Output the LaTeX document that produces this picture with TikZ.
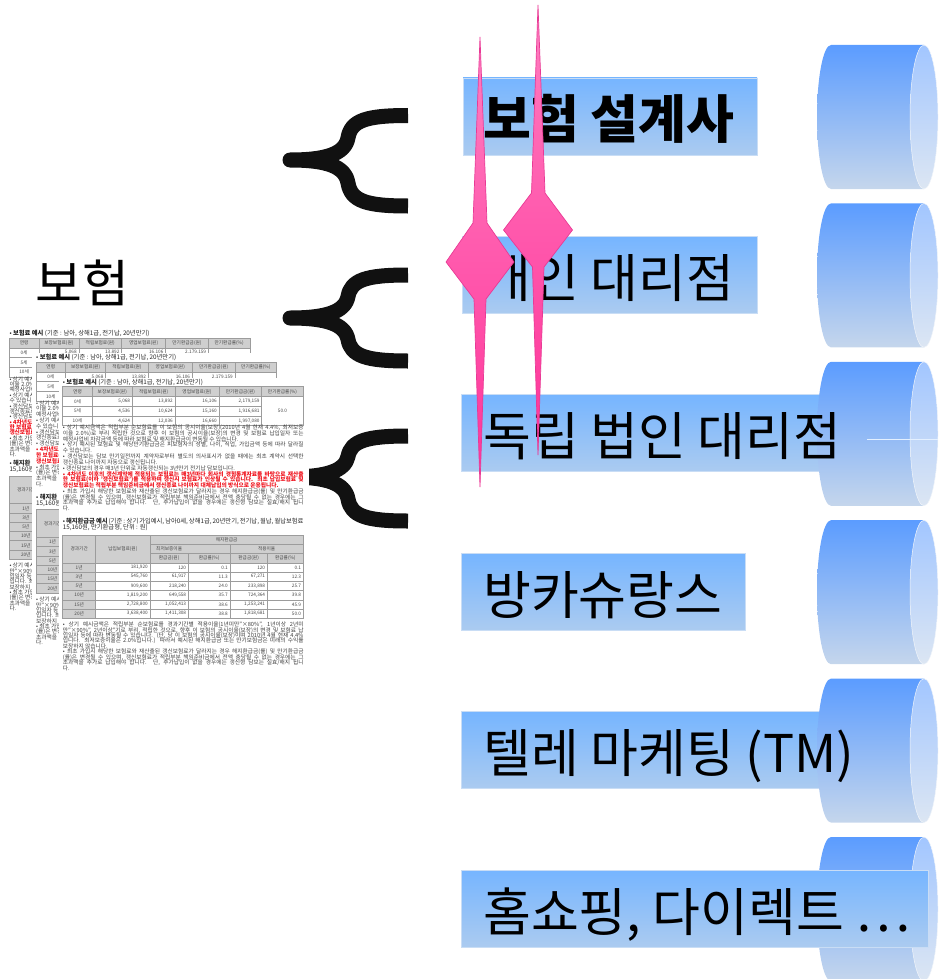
\documentclass[tikz,border=0pt]{standalone}
\usepackage{fontspec}
\setmainfont{Noto Sans CJK KR}
\definecolor{rtop}{HTML}{76B5FF}
\definecolor{rbot}{HTML}{ABCBF0}
\definecolor{redge}{HTML}{C9DDF5}
\definecolor{ctop}{HTML}{5B9CFF}
\definecolor{cmid}{HTML}{7FBAFC}
\definecolor{cbot}{HTML}{C5D6EC}
\definecolor{ftop}{HTML}{A2C6FF}
\definecolor{fbot}{HTML}{DCE6F3}
\definecolor{ptop}{HTML}{FF7EC0}
\definecolor{pbot}{HTML}{FF3399}
\definecolor{pedge}{HTML}{E83A95}
\definecolor{hdrgray}{HTML}{CFCFCF}
\definecolor{gridgray}{HTML}{9C9C9C}
\definecolor{notered}{HTML}{F0141E}
\definecolor{braceblk}{HTML}{111111}

\tikzset{
 lblrect/.style={top color=rtop, bottom color=rbot, draw=redge, line width=0.7pt},
 cylbody/.style={top color=ctop, middle color=cmid, bottom color=cbot},
 cylface/.style={top color=ftop, bottom color=fbot, draw=white!60!fbot, line width=0.5pt},
 pinkspike/.style={top color=ptop, bottom color=pbot, draw=pedge, line width=0.7pt, line join=miter},
 bracestroke/.style={draw=braceblk, line width=15pt, line join=round, line cap=butt},
 biglbl/.style={anchor=base west, inner sep=0pt, font=\fontsize{52}{52}\selectfont, text=black},
 cellc/.style={inner sep=0pt, font=\fontsize{4.7}{4.7}\selectfont, text=black!72},
 cellr/.style={cellc, anchor=east},
 gridln/.style={draw=gridgray, line width=0.45pt},
 titleln/.style={anchor=west, inner sep=0pt, font=\fontsize{6.3}{6.3}\selectfont, text=black!85},
 noteln/.style={anchor=west, inner sep=0pt, font=\fontsize{5.7}{5.7}\selectfont, text=black!75},
 redln/.style={anchor=west, inner sep=0pt, font=\fontsize{5.7}{5.7}\selectfont\bfseries, text=notered},
}

% full-width (justified) line and last line of a paragraph
\newcommand\fl[3]{\node[noteln] (#1) at (0,#2) {\makebox[240.6pt][s]{#3}};}
\newcommand\pl[3]{\node[noteln] (#1) at (0,#2) {#3};}
\newcommand\rfl[3]{\node[redln] (#1) at (0,#2) {\makebox[240.6pt][s]{#3}};}
\newcommand\rpl[3]{\node[redln] (#1) at (0,#2) {#3};}

\newcommand\tonerow[7]{%
 \node[cellc] (#1a) at (14.8,#2) {#3};
 \node[cellr] (#1b) at (67.6,#2) {#4};
 \node[cellr] (#1c) at (110.3,#2) {#5};
 \node[cellr] (#1d) at (154.3,#2) {#6};
 \node[cellr] (#1e) at (197,#2) {#7};}

\newcommand\ttworow[8]{%
 \node[cellc] (#1a) at (16.5,#2) {#3};
 \node[cellr] (#1b) at (85.3,#2) {#4};
 \node[cellr] (#1c) at (123.6,#2) {#5};
 \node[cellr] (#1d) at (165.3,#2) {#6};
 \node[cellr] (#1e) at (202.6,#2) {#7};
 \node[cellr] (#1f) at (238.6,#2) {#8};}

% #1 x, #2 y, #3 shift of section 2, #4 name prefix, #5 1=front copy, 0=back copy, #6 line-pitch scale (back copy)
\newcommand\docpage[6]{%
\begin{scope}[shift={(#1,#2)}, name prefix=#4-]
 \fill[white] (-4,-9) rectangle (246,{292+#3});
 \node[titleln] (title1) at (0,-4.7) {• \textbf{보험료 예시} (기준 : 남아, 상해1급, 전기납, 20년만기)};
 % table 1
 \fill[hdrgray] (0,0) rectangle (240.6,9.75);
 \draw[gridln] (0,0) rectangle (240.6,39);
 \foreach \yy in {19.5,29.25} \draw[gridln] (0,\yy) -- (199,\yy);
 \draw[gridln] (0,9.75) -- (240.6,9.75);
 \foreach \xx in {29.6,69.6,112.3,156.3,199} \draw[gridln] (\xx,0) -- (\xx,39);
 \node[cellc] (h1) at (14.8,4.9) {연령};
 \node[cellc] (h2) at (49.6,4.9) {보장보험료(원)};
 \node[cellc] (h3) at (90.95,4.9) {적립보험료(원)};
 \node[cellc] (h4) at (134.3,4.9) {영업보험료(원)};
 \node[cellc] (h5) at (177.65,4.9) {만기환급금(원)};
 \node[cellc] (h6) at (219.8,4.9) {만기환급률(\%)};
 \tonerow{ra}{14.6}{0세}{5,068}{13,892}{16,106}{2,179,159}
 \ifnum#5=1
  \tonerow{rb}{24.4}{5세}{4,536}{10,624}{15,160}{1,916,681}
  \tonerow{rc}{34.1}{10세}{4,624}{12,036}{16,660}{1,997,080}
  \node[cellc] (rate) at (219.8,24.4) {50.0};
  \fl{n1}{41}{• 상기 예시금액은 적립부분 순보험료를 이 보험의 공시이율(보장)(2010년 4월 현재 4.4\%, 최저보증}
  \fl{n2}{46.6}{이율 2.0\%)로 부리 적립한 것으로 향후 이 보험의 공시이율(보장)의 변경 및 보험료 납입일자 또는}
  \pl{n3}{52.2}{예정사업비 차감금액 등에 따라 보험료 및 해지환급금이 변동될 수 있습니다.}
  \fl{n4}{58.4}{• 상기 예시된 보험료 및 해당만기환급금은 피보험자의 성별, 나이, 직업, 가입금액 등에 따라 달라질}
  \pl{n5}{64.0}{수 있습니다.}
  \fl{n6}{70.0}{• 갱신담보는 담보 만기일전까지 계약자로부터 별도의 의사표시가 없을 때에는 최초 계약시 선택한}
  \pl{n7}{75.6}{갱신종료 나이까지 자동으로 갱신됩니다.}
  \pl{n8}{81.6}{• 갱신담보의 경우 매3년 단위로 자동갱신되는 3년만기 전기납 담보입니다.}
  \rfl{n9}{87.6}{• 4차년도 이후의 갱신계약에 적용되는 보험료는 매3년마다 회사의 경험통계자료를 바탕으로 재산출}
  \rfl{n10}{93.2}{한 보험료(이하 '갱신보험료')를 적용하며 갱신시 보험료가 인상될 수 있습니다. 최초 납입보험료 및}
  \rpl{n11}{98.8}{갱신보험료는 적립부분 책임준비금에서 갱신종료 나이까지 대체납입의 방식으로 운용됩니다.}
  \fl{n12}{105.0}{• 최초 가입시 해당한 보험료와 재산출된 갱신보험료가 달라지는 경우 해지환급금(률) 및 만기환급금}
  \fl{n13}{110.6}{(률)은 변경될 수 있으며, 갱신보험료가 적립부분 책임준비금에서 전액 충당될 수 없는 경우에는 그}
  \fl{n14}{116.2}{초과액을 추가로 납입해야 합니다. 단, 추가납입이 없을 경우에는 갱신형 담보는 실효/해지 됩니}
  \pl{n15}{121.8}{다.}
 \else
  \node[cellc] (rb) at (14.8,24.4) {5세};
  \node[cellc] (rc) at (14.8,34.1) {10세};
  \begin{scope}[shift={(0,{41*(1-#6)})}, yscale=#6]
  \pl{n1}{41}{• 상기 예시}
  \pl{n2}{46.6}{이율 2.0\%}
  \pl{n3}{52.2}{예정사업비}
  \pl{n4}{58.4}{• 상기 예시}
  \pl{n5}{64.0}{수 있습니}
  \pl{n6}{70.0}{• 갱신담보}
  \pl{n7}{75.6}{갱신종료로}
  \pl{n8}{81.6}{• 갱신담보}
  \rpl{n9}{87.6}{• 4차년도}
  \rpl{n10}{93.2}{한 보험료(}
  \rpl{n11}{98.8}{갱신보험료}
  \pl{n12}{105.0}{• 최초 가입}
  \pl{n13}{110.6}{(률)은 변경}
  \pl{n14}{116.2}{초과액을}
  \pl{n15}{121.8}{다.}
  \end{scope}
 \fi
 % section 2
 \begin{scope}[shift={(0,{148.3+#3})}]
  \fill[hdrgray] (0,0) rectangle (240.6,27.75);
  \fill[hdrgray] (0,27.75) rectangle (33,83.25);
  \draw[gridln] (0,0) rectangle (240.6,83.25);
  \draw[gridln] (87.3,9.25) -- (240.6,9.25);
  \draw[gridln] (87.3,18.5) -- (240.6,18.5);
  \foreach \yy in {27.75,37,46.25,55.5,64.75,74} \draw[gridln] (0,\yy) -- (240.6,\yy);
  \draw[gridln] (33,0) -- (33,83.25);
  \draw[gridln] (87.3,0) -- (87.3,83.25);
  \draw[gridln] (167.3,9.25) -- (167.3,83.25);
  \draw[gridln] (125.6,18.5) -- (125.6,83.25);
  \draw[gridln] (204.6,18.5) -- (204.6,83.25);
  \node[cellc] (k1) at (16.5,13.9) {경과기간};
  \ifnum#5=1
   \node[titleln] (title2a) at (0,-14) {\makebox[240.6pt][s]{• \textbf{해지환급금 예시} (기준 : 상기 가입예시, 남아0세, 상해1급, 20년만기, 전기납, 월납, 월납보험료}};
   \node[titleln] (title2b) at (0,-7.5) {15,160원, 만기환급형, 단위 : 원)};
   \node[cellc] (k2) at (60.15,13.9) {납입보험료(원)};
   \node[cellc] (k3) at (163.95,4.6) {해지환급금};
   \node[cellc] (k4) at (106.45,13.9) {최저보증이율};
   \node[cellc] (k5) at (203.95,13.9) {적용이율};
   \node[cellc] (k6) at (106.45,23.1) {환급금(원)};
   \node[cellc] (k7) at (146.45,23.1) {환급률(\%)};
   \node[cellc] (k8) at (185.95,23.1) {환급금(원)};
   \node[cellc] (k9) at (222.6,23.1) {환급률(\%)};
   \ttworow{ya}{32.4}{1년}{181,920}{120}{0.1}{120}{0.1}
   \ttworow{yb}{41.6}{3년}{545,760}{61,917}{11.3}{67,271}{12.3}
   \ttworow{yc}{50.9}{5년}{909,600}{218,240}{24.0}{233,898}{25.7}
   \ttworow{yd}{60.1}{10년}{1,819,200}{649,558}{35.7}{724,364}{39.8}
   \ttworow{ye}{69.4}{15년}{2,728,800}{1,052,413}{38.6}{1,253,241}{45.9}
   \ttworow{yf}{78.6}{20년}{3,638,400}{1,411,308}{38.8}{1,818,681}{50.0}
   \fl{m1}{90}{• 상기 예시금액은 적립부분 순보험료를 경과기간별 적용이율(1년미만"×80\%", 1년이상 2년미}
   \fl{m2}{95.35}{만"×90\%", 2년이상"기로 부리, 적립한 것으로, 향후 이 보험의 공시이율(보장)의 변경 및 보험료 납}
   \fl{m3}{100.7}{입일자 등에 따라 변동될 수 있습니다. (단, 당 이 보험의 공시이율(보장)이며 2010년 4월 현재 4.4\%}
   \fl{m4}{106.05}{입니다. 최저보증이율은 2.0\%입니다.) 따라서 예시된 해지환급금 또는 만기보험금은 미래의 수익률}
   \pl{m5}{111.4}{보장하지 않습니다.}
   \fl{m6}{117.0}{• 최초 가입시 해당한 보험료와 재산출된 갱신보험료가 달라지는 경우 해지환급금(률) 및 만기환급금}
   \fl{m7}{122.35}{(률)은 변경될 수 있으며, 갱신보험료가 적립부분 책임준비금에서 전액 충당될 수 없는 경우에는 그}
   \fl{m8}{127.7}{초과액을 추가로 납입해야 합니다. 단, 추가납입이 없을 경우에는 갱신형 담보는 실효/해지 됩니}
   \pl{m9}{133.05}{다.}
  \else
   \node[titleln] (title2a) at (0,-12.5) {• \textbf{해지환}};
   \node[titleln] (title2b) at (0,-6.5) {15,160원};
   \ttworow{ya}{32.4}{1년}{}{}{}{}{}
   \ttworow{yb}{41.6}{3년}{}{}{}{}{}
   \ttworow{yc}{50.9}{5년}{}{}{}{}{}
   \ttworow{yd}{60.1}{10년}{}{}{}{}{}
   \ttworow{ye}{69.4}{15년}{}{}{}{}{}
   \ttworow{yf}{78.6}{20년}{}{}{}{}{}
   \pl{m1}{90}{• 상기 예시}
   \pl{m2}{95.35}{만"×90\%"}
   \pl{m3}{100.7}{입일자 등}
   \pl{m4}{106.05}{입니다. 최}
   \pl{m5}{111.4}{보장하지}
   \pl{m6}{117.0}{• 최초 가입}
   \pl{m7}{122.35}{(률)은 변경}
   \pl{m8}{127.7}{초과액을}
   \pl{m9}{133.05}{다.}
  \fi
 \end{scope}
\end{scope}}

\newcommand\mybrace[3]{%
 \draw[bracestroke] (408,#1) .. controls (366,#1) and (351,{#1+5}) .. (348,{(#1+#2)/2})
   .. controls (345,{#2-6}) and (326,#2) .. (290,#2)
   .. controls (326,#2) and (345,{#2+6}) .. (348,{(#2+#3)/2})
   .. controls (351,{#3-5}) and (366,#3) .. (408,#3);}

\newcommand\mycyl[1]{%
 \path[cylbody] (831,#1) -- (924,#1) -- (924,{#1+144}) -- (831,{#1+144})
   arc[start angle=90, end angle=270, x radius=14, y radius=72] -- cycle;
 \path[cylface] (924,{#1+72}) ellipse[x radius=14, y radius=72];}

\begin{document}
\begin{tikzpicture}[x=1pt,y=-1pt]
\useasboundingbox (0,0) rectangle (938,979);

% braces
\mybrace{115.5}{160}{206}
\mybrace{275}{318}{361}
\mybrace{436}{477}{521}

% document snapshots (back to front)
\docpage{9.3}{338}{-10.5}{docA}{0}{0.93}
\docpage{36}{362.2}{-0.8}{docB}{0}{1}
\docpage{62.7}{386.7}{0}{docC}{1}{1}

% main label
\node[anchor=base west, inner sep=0pt, font=\fontsize{51}{51}\selectfont] (bohum) at (35,302) {보험};

% label rectangles that sit behind the cylinders
\path[lblrect] (463,78) rectangle (757,155);
\path[lblrect] (462,236.4) rectangle (757,313.4);
\path[lblrect] (461,394.8) rectangle (835,471.8);
\path[lblrect] (461,553.2) rectangle (745,630.2);
\path[lblrect] (461,711.6) rectangle (835,788.6);

% cylinders
\mycyl{45}
\mycyl{203.4}
\mycyl{361.8}
\mycyl{520.2}
\mycyl{678.6}
\mycyl{837}

% last rectangle lies over its cylinder
\path[lblrect] (461,870) rectangle (928,947);

% faint line on third cylinder
\coordinate (wl1) at (867,439);
\coordinate (wl2) at (938,439);
\draw[color=white!80!rtop, line width=0.7pt] (wl1) -- (wl2);

% label texts
\node[biglbl] (l1) at (483,139) {\bfseries 보험 설계사};
\node[biglbl] (l2) at (483,297.4) {개인 대리점};
\node[biglbl] (l3) at (483,455.8) {독립 법인 대리점};
\node[biglbl] (l4) at (483,614.2) {방카슈랑스};
\node[biglbl] (l5) at (483,772.6) {텔레 마케팅 (TM)};
\node[biglbl] (l6) at (483,931) {홈쇼핑, 다이렉트 …};

% pink spikes
\path[pinkspike] (538,5) -- (545,193) -- (572.5,230) -- (544,267) -- (538,455) -- (532.5,267) -- (503.5,230) -- (531.5,193) -- cycle;
\path[pinkspike] (480,37) -- (487,223) -- (514,262) -- (486,299) -- (480,487) -- (474,299) -- (446,262) -- (473,223) -- cycle;
\end{tikzpicture}
\end{document}
